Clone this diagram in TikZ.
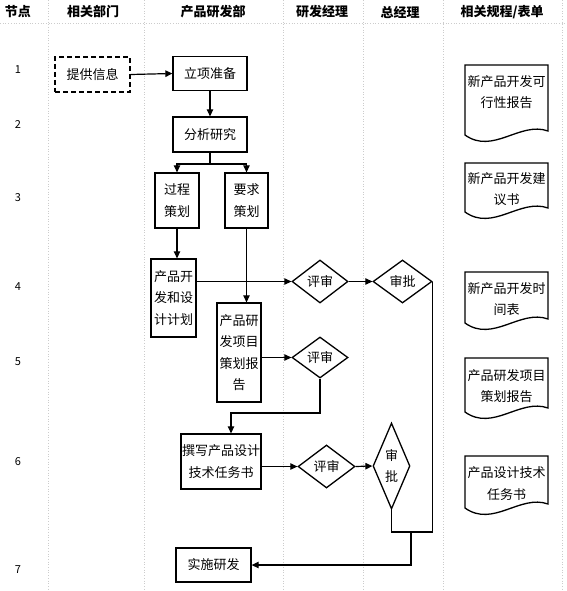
\documentclass[tikz,border=0pt]{standalone}
\usepackage{fontspec}
\setmainfont{Noto Sans CJK SC}
\usetikzlibrary{arrows.meta,shapes.geometric}
\newcommand\fs{\fontsize{13}{21.5}\selectfont}
\newcommand\nfs{\fontsize{11}{13}\selectfont}
\newcommand\docshape[3]{%
  \draw[docline] ({#1-41.5},{#3}) -- ({#1-41.5},{#2}) -- ({#1+41.5},{#2}) -- ({#1+41.5},{#3-4})
    .. controls ({#1+13.5},{#3-14}) and ({#1-13.5},{#3+20}) .. cycle;}
\begin{document}
\begin{tikzpicture}[x=1pt,y=-1pt,
  gridline/.style={draw=gray!40, dotted, line width=0.7pt},
  box/.style={draw, line width=1.3pt, inner sep=0pt, align=center, font=\fs},
  dia/.style={draw, diamond, line width=1.3pt, inner sep=0pt},
  conn/.style={line width=1.2pt},
  arr/.style={conn, -{Triangle[length=7pt,width=6.5pt]}},
  docline/.style={line width=1.3pt},
  doctext/.style={font=\fs, align=center, inner sep=0pt},
  hdr/.style={font=\fs\bfseries, inner sep=0pt},
  rownum/.style={font=\nfs, inner sep=0pt}]
\useasboundingbox (0,0) rectangle (566,591);
% grid
\foreach \gx in {48,144,283,363,443,562} {\draw[gridline] (\gx,0) -- (\gx,591);}
\draw[gridline] (0,23) -- (566,23);
% headers
\node[hdr] (h0) at (18,12) {节点};
\node[hdr] (h1) at (93,12) {相关部门};
\node[hdr] (h2) at (213,12) {产品研发部};
\node[hdr] (h3) at (322,12) {研发经理};
\node[hdr] (h4) at (400,12) {总经理};
\node[hdr] (h5) at (502,12) {相关规程/表单};
% row numbers
\node[rownum] (r1) at (18,70) {1};
\node[rownum] (r2) at (18,125) {2};
\node[rownum] (r3) at (18,198) {3};
\node[rownum] (r4) at (18,287) {4};
\node[rownum] (r5) at (18,362) {5};
\node[rownum] (r6) at (18,462) {6};
\node[rownum] (r7) at (18,570) {7};
% process boxes
\node[box, dashed, dash pattern=on 5pt off 3pt, minimum width=75pt, minimum height=35pt] (info) at (92.5,74.5) {提供信息};
\node[box, minimum width=74pt, minimum height=34pt] (lx) at (210,73.5) {立项准备};
\node[box, minimum width=74pt, minimum height=35pt] (fx) at (210,134.5) {分析研究};
\node[box, minimum width=44pt, minimum height=55pt] (gc) at (177,200.5) {过程\\策划};
\node[box, minimum width=43pt, minimum height=55pt] (yq) at (246.5,200.5) {要求\\策划};
\node[box, minimum width=45pt, minimum height=78pt] (kf) at (173.5,298) {产品开\\发和设\\计计划};
\node[box, minimum width=44pt, minimum height=99pt] (xm) at (239,352.5) {产品研\\发项目\\策划报\\告};
\node[box, minimum width=80pt, minimum height=55pt] (zx) at (221,461.5) {撰写产品设计\\技术任务书};
\node[box, minimum width=75pt, minimum height=34pt] (ss) at (213.5,565) {实施研发};
% diamonds
\node[dia, minimum width=56pt, minimum height=43pt, label={[font=\fs]center:评审}] (ps1) at (320,281.5) {};
\node[dia, minimum width=59pt, minimum height=43pt, label={[font=\fs]center:审批}] (sp1) at (402.5,281.5) {};
\node[dia, minimum width=56pt, minimum height=41pt, label={[font=\fs]center:评审}] (ps2) at (320,357.5) {};
\node[dia, minimum width=57pt, minimum height=43pt, label={[font=\fs]center:评审}] (ps3) at (326.5,466.5) {};
\node[dia, minimum width=37pt, minimum height=86pt, label={[font=\fs, align=center]center:审\\批}] (sp3) at (391.5,466) {};
% connectors
\draw[arr] (info.east) -- (lx.west);
\draw[arr] (lx.south) -- (fx.north);
\coordinate (br) at (210,164);
\draw[conn] (fx.south) -- (br);
\draw[arr] (br) -| (gc.north);
\draw[arr] (br) -| (yq.north);
\draw[arr] (gc.south) -- (gc.south |- kf.north);
\draw[arr] (yq.south) -- (yq.south |- xm.north);
\draw[arr] (kf.east |- ps1.west) -- (ps1.west);
\draw[arr] (ps1.east) -- (sp1.west);
\draw[arr] (xm.east |- ps2.west) -- (ps2.west);
\coordinate (j4) at (231,413);
\draw[arr] (ps2.south) |- (j4) -- (j4 |- zx.north);
\draw[arr] (zx.east |- ps3.west) -- (ps3.west);
\draw[arr] (ps3.east) -- (sp3.west);
\coordinate (j1) at (432,532);
\coordinate (j2) at (411,532);
\draw[conn] (sp1.east) -- (sp1.east |- j1) -- (sp3.south |- j1) -- (sp3.south);
\draw[arr] (j2) |- (ss.east);
% documents
\docshape{506.5}{65}{135}
\node[doctext] (d1) at (506.5,92) {新产品开发可\\行性报告};
\docshape{506.5}{163}{212}
\node[doctext] (d2) at (506.5,189) {新产品开发建\\议书};
\docshape{506.5}{272}{323}
\node[doctext] (d3) at (506.5,299) {新产品开发时\\间表};
\docshape{506.5}{358}{412}
\node[doctext] (d4) at (506.5,386) {产品研发项目\\策划报告};
\docshape{506.5}{456}{508}
\node[doctext] (d5) at (506.5,483.5) {产品设计技术\\任务书};
\end{tikzpicture}
\end{document}
